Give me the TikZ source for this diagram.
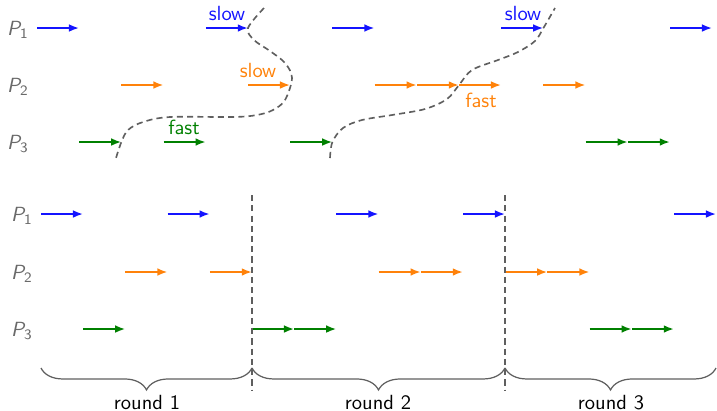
\documentclass[tikz,border=0pt]{standalone}
\usepackage{amsmath}
\usetikzlibrary{arrows.meta,decorations.pathreplacing}
\definecolor{pblue}{RGB}{20,20,255}
\definecolor{porange}{RGB}{255,130,10}
\definecolor{pgreen}{RGB}{0,128,0}
\definecolor{lbl}{RGB}{105,105,105}
\definecolor{cutgray}{RGB}{95,95,95}
\newcommand{\procname}[1]{$\text{\sffamily\itshape P}_{\text{\sffamily #1}}$}
\begin{document}
\begin{tikzpicture}[x=0.488pt,y=-0.488pt,
  msg/.style={line width=1pt,-{Latex[length=5pt,width=3.8pt]}},
  cut/.style={draw=cutgray,line width=0.8pt,dash pattern=on 3pt off 2pt},
  proc/.style={text=lbl,font=\sffamily,inner sep=0pt},
  tag/.style={font=\sffamily,inner sep=0pt,anchor=base},
  roundbrace/.style={draw=cutgray,line width=0.6pt,decorate,
    decoration={brace,mirror,amplitude=10.7pt}},
  roundtag/.style={font=\sffamily,inner sep=0pt,anchor=base}]
\useasboundingbox (0,0) rectangle (717,410);

% time grid of the three processes, asynchronous view (a) and round view (b)
\foreach \r/\y in {1/28,2/85,3/142}
  \foreach \k in {0,...,16}
    \coordinate (a\r-\k) at ({37+42.2*\k},\y);
\foreach \r/\y in {1/214,2/272,3/329}
  \foreach \k in {0,...,16}
    \coordinate (b\r-\k) at ({41+42.2*\k},\y);

% process labels
\node[proc] (pa1) at (18,30) {\procname{1}};
\node[proc] (pa2) at (18,87) {\procname{2}};
\node[proc] (pa3) at (18,144) {\procname{3}};
\node[proc] (pb1) at (22,216) {\procname{1}};
\node[proc] (pb2) at (22,274) {\procname{2}};
\node[proc] (pb3) at (22,331) {\procname{3}};

% asynchronous steps
\foreach \k/\n in {0/1,4/5,7/8,11/12,15/16}
  \draw[msg,pblue] (a1-\k) -- (a1-\n);
\foreach \k/\n in {2/3,5/6,8/9,9/10,10/11,12/13}
  \draw[msg,porange] (a2-\k) -- (a2-\n);
\foreach \k/\n in {1/2,3/4,6/7,13/14,14/15}
  \draw[msg,pgreen] (a3-\k) -- (a3-\n);

% speed tags
\node[tag,text=pblue] (s1) at (227,20) {slow};
\node[tag,text=porange] (s2) at (258,77) {slow};
\node[tag,text=pgreen] (f1) at (184,134) {fast};
\node[tag,text=pblue] (s3) at (523,20) {slow};
\node[tag,text=porange] (f2) at (481,107) {fast};

% consistent cuts
\draw[cut] plot[smooth,tension=0.55] coordinates {(264,8) (a1-5) (254,40) (270,51) (285,63)
  (292,78) (285,100) (273,110) (257,115) (233,117) (170,117) (143,122) (128,130) (a3-2) (116,158)};
\draw[cut] plot[smooth,tension=0.55] coordinates {(330,158) (a3-7) (343,128) (362,120)
  (392,115) (425,109) (447,99) (a2-10) (472,70) (498,60) (518,52) (535,41) (a1-12) (555,8)};

% round-based steps
\foreach \k/\n in {0/1,3/4,7/8,10/11,15/16}
  \draw[msg,pblue] (b1-\k) -- (b1-\n);
\foreach \k/\n in {2/3,4/5,8/9,9/10,11/12,12/13}
  \draw[msg,porange] (b2-\k) -- (b2-\n);
\foreach \k/\n in {1/2,5/6,6/7,13/14,14/15}
  \draw[msg,pgreen] (b3-\k) -- (b3-\n);

% round boundaries
\coordinate (r1t) at (252,195);
\coordinate (r1b) at (252,390);
\coordinate (r2t) at (505,195);
\coordinate (r2b) at (505,390);
\draw[cut] (r1t) -- (r1b);
\draw[cut] (r2t) -- (r2b);

% rounds
\coordinate (q0) at (41,368);
\coordinate (q1) at (252,368);
\coordinate (q2) at (505,368);
\coordinate (q3) at (716,368);
\draw[roundbrace] (q0) -- (q1);
\draw[roundbrace] (q1) -- (q2);
\draw[roundbrace] (q2) -- (q3);
\node[roundtag] (rd1) at (147,409) {round 1};
\node[roundtag] (rd2) at (378,409) {round 2};
\node[roundtag] (rd3) at (611,409) {round 3};
\end{tikzpicture}
\end{document}
